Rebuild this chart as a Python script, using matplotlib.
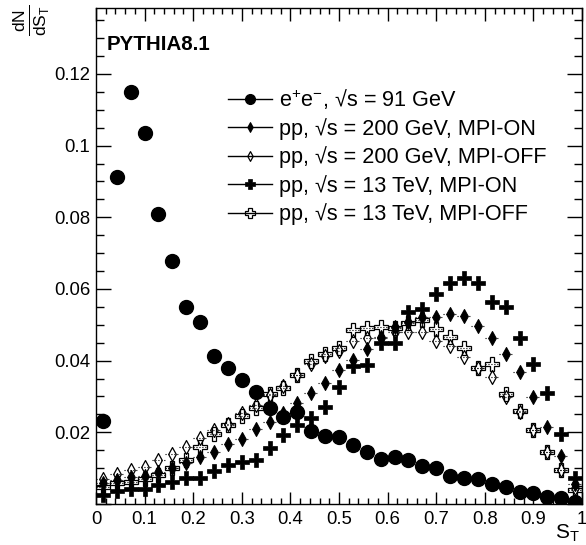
import numpy as np
import matplotlib
matplotlib.use("Agg")
import matplotlib.pyplot as plt
from matplotlib.path import Path
from matplotlib.ticker import MultipleLocator, FuncFormatter
from matplotlib.lines import Line2D

plt.rcParams['font.family'] = ['Liberation Sans', 'DejaVu Sans']
plt.rcParams['mathtext.fontset'] = 'custom'
plt.rcParams['mathtext.rm'] = 'Liberation Sans'
plt.rcParams['mathtext.it'] = 'Liberation Sans'
plt.rcParams['mathtext.bf'] = 'Liberation Sans:bold'

n_bins = 35
bin_centers = (np.arange(n_bins) + 0.5) / n_bins

ee_91 = [0.0232, 0.0913, 0.1151, 0.1036, 0.0810, 0.0677, 0.0549, 0.0507, 0.0414, 0.0379,
         0.0346, 0.0312, 0.0269, 0.0242, 0.0258, 0.0205, 0.0190, 0.0186, 0.0165, 0.0144,
         0.0126, 0.0130, 0.0123, 0.0106, 0.0100, 0.0079, 0.0072, 0.0069, 0.0055, 0.0047,
         0.0034, 0.0030, 0.0020, 0.0016, 0.0005]
pp200_on = [0.0059, 0.0067, 0.0076, 0.0079, 0.0090, 0.0100, 0.0114, 0.0132, 0.0144, 0.0167,
            0.0180, 0.0208, 0.0230, 0.0255, 0.0281, 0.0310, 0.0337, 0.0374, 0.0402, 0.0433,
            0.0467, 0.0493, 0.0509, 0.0522, 0.0522, 0.0529, 0.0525, 0.0497, 0.0462, 0.0418,
            0.0367, 0.0299, 0.0216, 0.0135, 0.0055]
pp200_off = [0.0070, 0.0084, 0.0095, 0.0104, 0.0123, 0.0139, 0.0160, 0.0183, 0.0206, 0.0223,
             0.0253, 0.0276, 0.0304, 0.0329, 0.0360, 0.0390, 0.0413, 0.0428, 0.0456, 0.0462,
             0.0462, 0.0481, 0.0481, 0.0481, 0.0456, 0.0441, 0.0409, 0.0379, 0.0355, 0.0299,
             0.0258, 0.0206, 0.0146, 0.0095, 0.0045]
pp13_on = [0.0025, 0.0037, 0.0042, 0.0042, 0.0053, 0.0062, 0.0072, 0.0072, 0.0092, 0.0109,
           0.0118, 0.0123, 0.0157, 0.0192, 0.0220, 0.0239, 0.0271, 0.0327, 0.0386, 0.0388,
           0.0448, 0.0448, 0.0536, 0.0543, 0.0586, 0.0618, 0.0631, 0.0616, 0.0564, 0.0550,
           0.0462, 0.0392, 0.0309, 0.0194, 0.0073]
pp13_off = [0.0048, 0.0058, 0.0062, 0.0070, 0.0081, 0.0100, 0.0123, 0.0160, 0.0195, 0.0220,
            0.0245, 0.0267, 0.0306, 0.0325, 0.0360, 0.0400, 0.0418, 0.0434, 0.0485, 0.0490,
            0.0493, 0.0490, 0.0506, 0.0513, 0.0488, 0.0467, 0.0434, 0.0379, 0.0391, 0.0306,
            0.0259, 0.0206, 0.0144, 0.0095, 0.0040]

labels = [r"e$^{+}$e$^{-}$, √s = 91 GeV",
          "pp, √s = 200 GeV, MPI-ON",
          "pp, √s = 200 GeV, MPI-OFF",
          "pp, √s = 13 TeV, MPI-ON",
          "pp, √s = 13 TeV, MPI-OFF"]

thin_diamond = Path([(0, 1), (0.55, 0), (0, -1), (-0.55, 0), (0, 1)],
                    [Path.MOVETO, Path.LINETO, Path.LINETO, Path.LINETO, Path.CLOSEPOLY])

fig = plt.figure(figsize=(5.86, 5.45), dpi=100)
ax = fig.add_axes([96 / 586, 41 / 545, 486 / 586, 496 / 545])

half_bin = 0.5 / n_bins
series = [
    (ee_91, dict(marker='o', ms=10.0, mfc='black', mec='black'), '-'),
    (pp200_on, dict(marker=thin_diamond, ms=10, mfc='black', mec='black', mew=0.8), ':'),
    (pp200_off, dict(marker=thin_diamond, ms=10, mfc='none', mec='black', mew=0.9), ':'),
    (pp13_on, dict(marker='P', ms=10, mfc='black', mec='black', mew=0.5), ':'),
    (pp13_off, dict(marker='P', ms=10, mfc='none', mec='black', mew=0.9), ':'),
]

handles = []
for (vals, mk, ls), lab in zip(series, labels):
    eb = ax.errorbar(bin_centers, vals, xerr=half_bin, fmt='none', ecolor='black',
                     elinewidth=0.8, capsize=0)
    for lc in eb[2]:
        lc.set_linestyle(ls)
    ax.plot(bin_centers, vals, linestyle='none', **mk)
    hk = dict(mk)
    hk['ms'] = mk['ms'] * 0.7
    handles.append(Line2D([], [], color='black', lw=1.0, **hk))

ax.set_xlim(0, 1)
ax.set_ylim(0, 0.1384)
ax.xaxis.set_major_locator(MultipleLocator(0.1))
ax.xaxis.set_minor_locator(MultipleLocator(0.02))
ax.yaxis.set_major_locator(MultipleLocator(0.02))
ax.yaxis.set_minor_locator(MultipleLocator(0.005))
xfmt = FuncFormatter(lambda v, p: f"{v:.10g}" if abs(v) > 1e-12 else "0")
yfmt = FuncFormatter(lambda v, p: f"{v:.10g}" if abs(v) > 1e-12 else "")
ax.xaxis.set_major_formatter(xfmt)
ax.yaxis.set_major_formatter(yfmt)
ax.tick_params(which='both', direction='in', top=True, right=True, labelsize=13.3,
               width=1.0, colors='black')
ax.tick_params(axis='x', which='major', length=9, pad=5)
ax.tick_params(axis='x', which='minor', length=4.5)
ax.tick_params(axis='y', which='major', length=11, pad=4)
ax.tick_params(axis='y', which='minor', length=5.5)
for s in ax.spines.values():
    s.set_linewidth(1.0)

leg = ax.legend(handles, labels, loc='upper left', bbox_to_anchor=(132 / 486, 1 - 79 / 496),
                frameon=False, fontsize=15.6, handlelength=2.05, handletextpad=0.32,
                labelspacing=0.30, borderpad=0, borderaxespad=0)

fig.text(107 / 586, 1 - 45 / 545, "PYTHIA8.1", fontsize=14.8, fontweight='bold',
         ha='left', va='center')
fig.text(31 / 586, 1 - 5 / 545, r"$\frac{dN}{dS_{T}}$", fontsize=18, rotation=90,
         ha='center', va='top')
fig.text(580 / 586, 1 / 545, r"S$_{\mathrm{T}}$", fontsize=15, ha='right', va='bottom')

fig.savefig("out.png", dpi=100)
